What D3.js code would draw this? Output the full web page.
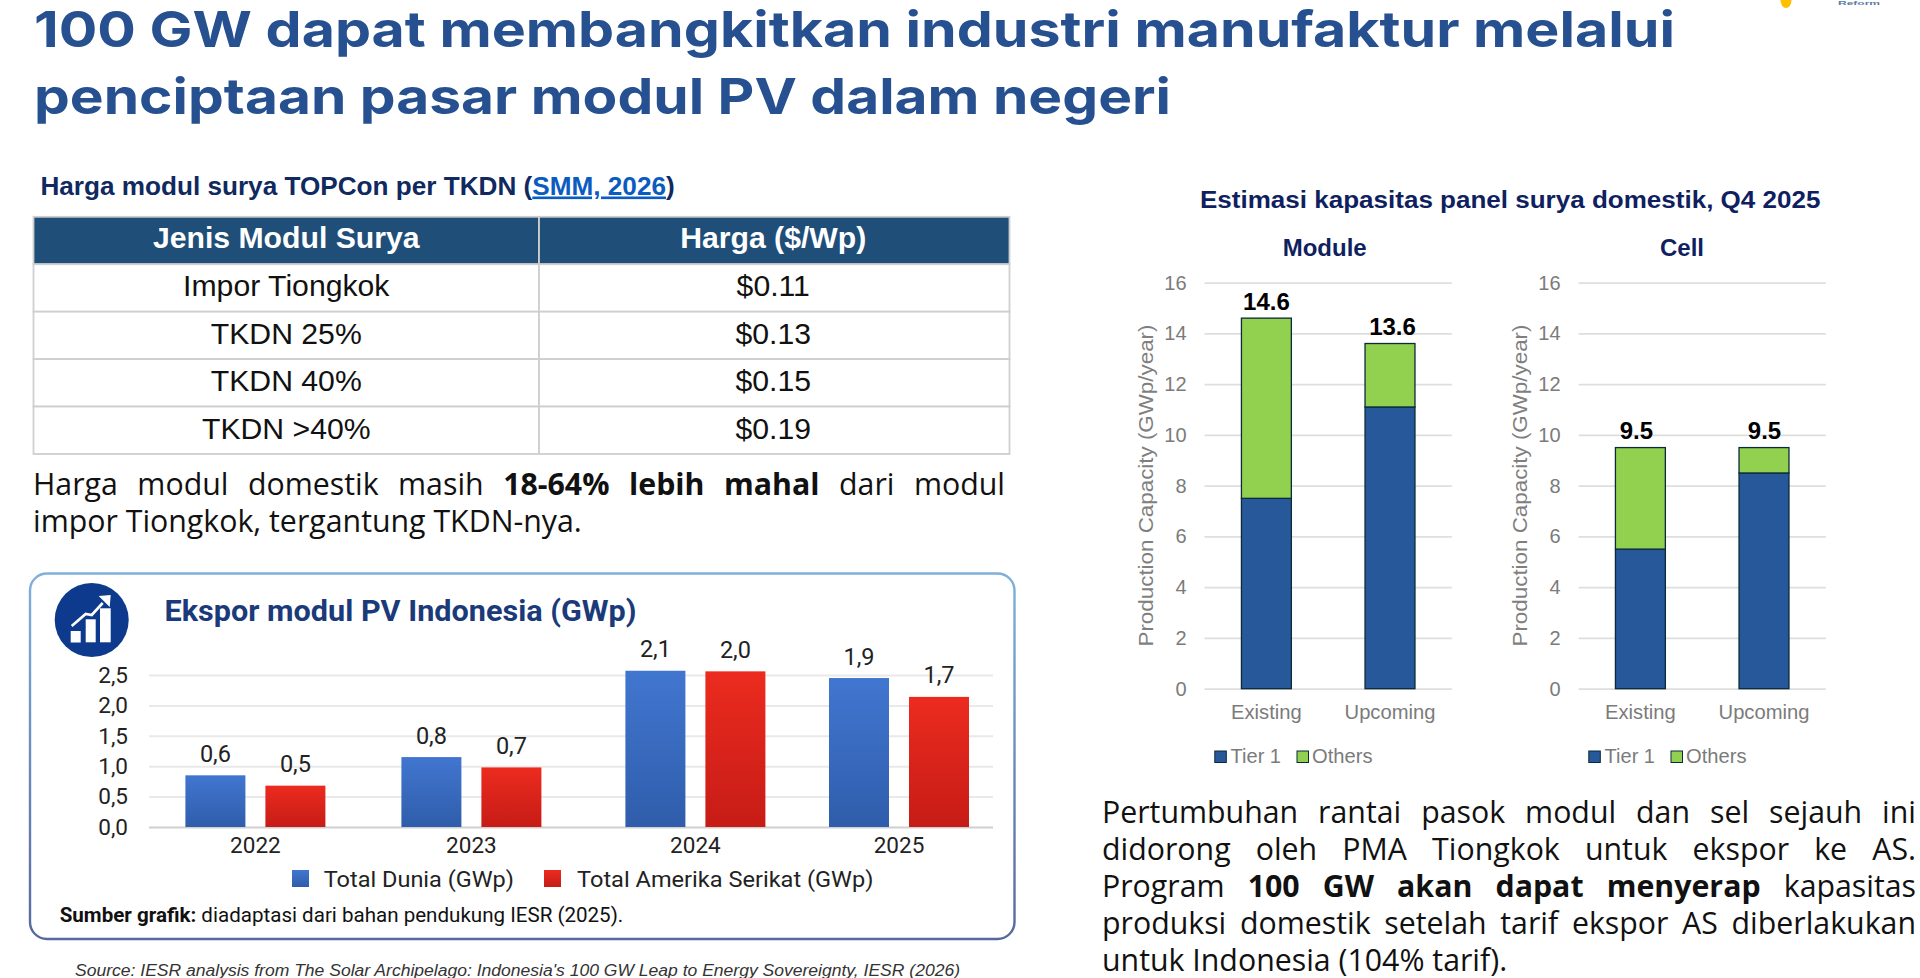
<!DOCTYPE html>
<html>
<head>
<meta charset="utf-8">
<script src="https://cdn.jsdelivr.net/npm/d3@7/dist/d3.min.js"></script>
<style>
html,body{margin:0;padding:0;background:#fff;overflow:hidden}
svg{display:block}
text{font-family:"Liberation Sans",Arial,sans-serif}
</style>
</head>
<body>
<div id="chart"></div>
<script>
// ---------- data ----------
const titleLines = ["100 GW dapat membangkitkan industri manufaktur melalui", "penciptaan pasar modul PV dalam negeri"];
const tableHeaders = ["Jenis Modul Surya", "Harga ($/Wp)"];
const moduleTypes = ["Impor Tiongkok", "TKDN 25%", "TKDN 40%", "TKDN >40%"];
const modulePrices = ["$0.11", "$0.13", "$0.15", "$0.19"];

const exportYears = ["2022", "2023", "2024", "2025"];
const exportSeries = ["Total Dunia (GWp)", "Total Amerika Serikat (GWp)"];
const exportWorldBars = [0.85, 1.15, 2.57, 2.45];
const exportUSBars = [0.68, 0.98, 2.56, 2.14];
const exportWorldLabels = ["0,6", "0,8", "2,1", "1,9"];
const exportUSLabels = ["0,5", "0,7", "2,0", "1,7"];
const exportTicks = [0, 0.5, 1, 1.5, 2, 2.5];

const capacityCategories = ["Existing", "Upcoming"];
const capacitySeries = ["Tier 1", "Others"];
const capacityTicks = [0, 2, 4, 6, 8, 10, 12, 14, 16];
const moduleTier1 = [7.5, 11.1];
const moduleOthers = [7.1, 2.5];
const moduleTotals = ["14.6", "13.6"];
const cellTier1 = [5.5, 8.5];
const cellOthers = [4.0, 1.0];
const cellTotals = ["9.5", "9.5"];

// ---------- helpers ----------
const svg = d3.select("#chart").append("svg").attr("width", 1920).attr("height", 978);
const defs = svg.append("defs");
function gradient(id, top, bottom) {
  const g = defs.append("linearGradient").attr("id", id).attr("x1", 0).attr("x2", 0).attr("y1", 0).attr("y2", 1);
  g.append("stop").attr("offset", "0%").attr("stop-color", top);
  g.append("stop").attr("offset", "100%").attr("stop-color", bottom);
}
gradient("gBlue", "#4176d0", "#2f5dab");
gradient("gRed", "#ec2b1f", "#c61c16");
gradient("gBorder", "#7fb0dc", "#56689f");

function fit(sel, w) { return sel.attr("textLength", w).attr("lengthAdjust", "spacingAndGlyphs"); }
function fitSize(sel, w) {
  const s = parseFloat(sel.attr("font-size"));
  sel.attr("font-size", s * w / sel.node().getComputedTextLength());
  return sel;
}
// a paragraph is one text element whose lines are tspans; justified lines get computed word spacing
function paragraph(x, size, lines) {
  const t = svg.append("text").attr("font-size", size)
    .style("font-family", '"Open Sans",sans-serif').style("white-space", "pre").attr("fill", "#111");
  lines.forEach(l => {
    const line = t.append("tspan").attr("x", x).attr("y", l.y);
    l.segs.forEach(s => line.append("tspan").attr("font-weight", s[1] ? 700 : 400).text(s[0]));
    if (l.width) {
      const spaces = l.segs.map(s => s[0]).join("").split(" ").length - 1;
      line.attr("word-spacing", (l.width - line.node().getComputedTextLength()) / spaces);
    }
  });
  return t;
}

// ---------- slide title ----------
const titleX = 34, titleWidths = [1641, 1137], titleY = [46.5, 114];
titleLines.forEach((l, i) => {
  fit(svg.append("text").attr("x", titleX).attr("y", titleY[i]).attr("font-size", 50).attr("font-weight", 700)
    .style("font-family", "Inter,sans-serif").attr("fill", "#26508f").text(l), titleWidths[i]);
});
// logo remnants at the top edge
svg.append("ellipse").attr("cx", 1786).attr("cy", 0).attr("rx", 5.5).attr("ry", 8).attr("fill", "#ffc000");
fit(svg.append("text").attr("x", 1838).attr("y", 5).attr("font-size", 5.5).attr("font-weight", 700).attr("fill", "#5a78a8").text("Reform"), 42);

// ---------- table ----------
const tableTitle = svg.append("text").attr("x", 40.4).attr("y", 194.5).attr("font-size", 24).attr("font-weight", 700).attr("fill", "#10295f");
tableTitle.append("tspan").text("Harga modul surya TOPCon per TKDN (");
tableTitle.append("tspan").attr("fill", "#0b5cc0").style("text-decoration", "underline").text("SMM, 2026");
tableTitle.append("tspan").text(")");
fitSize(tableTitle, 634.6);

const tableRows = [tableHeaders].concat(moduleTypes.map((m, i) => [m, modulePrices[i]]));
const rowY = d3.scaleBand().domain(d3.range(tableRows.length)).range([216.8, 454]);
const colX = d3.scaleOrdinal().domain([0, 1]).range([33.5, 539]);
const colW = d3.scaleOrdinal().domain([0, 1]).range([505.5, 470.5]);
const rowG = svg.append("g").selectAll("g").data(tableRows).join("g")
  .attr("transform", (d, i) => `translate(0,${rowY(i)})`);
rowG.each(function (row, i) {
  const g = d3.select(this);
  row.forEach((cell, c) => {
    g.append("rect").attr("x", colX(c)).attr("y", 0).attr("width", colW(c)).attr("height", rowY.bandwidth())
      .attr("fill", i === 0 ? "#1f4e79" : "#fff").attr("stroke", "#cfcfcf").attr("stroke-width", 1.8);
    g.append("text").attr("x", colX(c) + colW(c) / 2 + (c ? -1 : 0)).attr("y", rowY.bandwidth() / 2 + (i === 0 ? 7.5 : 8.5))
      .attr("text-anchor", "middle").attr("font-size", 30.2).attr("font-weight", i === 0 ? 700 : 400)
      .attr("fill", i === 0 ? "#fff" : "#111").text(cell);
  });
});

// ---------- paragraphs ----------
const paraSize = 30.3;
paragraph(33, paraSize, [
  { y: 494.5, width: 972, segs: [["Harga modul domestik masih ", 0], ["18-64% lebih mahal", 1], [" dari modul", 0]] },
  { y: 531.5, segs: [["impor Tiongkok, tergantung TKDN-nya.", 0]] }
]);
paragraph(1102, paraSize, [
  { y: 822.5, width: 814, segs: [["Pertumbuhan rantai pasok modul dan sel sejauh ini", 0]] },
  { y: 859.5, width: 814, segs: [["didorong oleh PMA Tiongkok untuk ekspor ke AS.", 0]] },
  { y: 896.5, width: 814, segs: [["Program ", 0], ["100 GW akan dapat menyerap", 1], [" kapasitas", 0]] },
  { y: 933.5, width: 814, segs: [["produksi domestik setelah tarif ekspor AS diberlakukan", 0]] },
  { y: 970.5, segs: [["untuk Indonesia (104% tarif).", 0]] }
]);

// ---------- export panel ----------
svg.append("rect").attr("x", 30).attr("y", 573.5).attr("width", 984.5).attr("height", 365.5).attr("rx", 17)
  .attr("fill", "#fff").attr("stroke", "url(#gBorder)").attr("stroke-width", 2.4);

const iconG = svg.append("g").attr("transform", "translate(91.7,620)");
iconG.append("circle").attr("r", 37).attr("fill", "#0d3a8c");
[[-21, 11, 10, 11.5], [-6, -0.7, 10, 23], [8.3, -11.7, 10.7, 34]].forEach(b =>
  iconG.append("rect").attr("x", b[0]).attr("y", b[1]).attr("width", b[2]).attr("height", b[3]).attr("fill", "#fff"));
iconG.append("path").attr("d", "M-20,6 L-6,-6 L0,-5 L11,-17").attr("fill", "none").attr("stroke", "#fff").attr("stroke-width", 2.6);
iconG.append("path").attr("d", "M7,-24 L19,-25 L18,-13 Z").attr("fill", "#fff");

fit(svg.append("text").attr("x", 164.5).attr("y", 620.7).attr("font-size", 29).attr("font-weight", 700)
  .style("font-family", "Roboto,sans-serif").attr("fill", "#1b3a7a").text("Ekspor modul PV Indonesia (GWp)"), 472);

const exY = d3.scaleLinear().domain([0, 2.5]).range([827, 675]);
const exCenter = d3.scaleOrdinal().domain(exportYears).range([255.4, 471.4, 695.4, 899]);
const exSub = d3.scaleBand().domain(exportSeries).range([-70, 70]).paddingInner(0.25);

const exAxis = svg.append("g").attr("transform", "translate(149,0)")
  .call(d3.axisLeft(exY).tickValues(exportTicks).tickSize(-844).tickPadding(21).tickFormat(d => d3.format(".1f")(d).replace(".", ",")));
exAxis.select(".domain").remove();
exAxis.selectAll(".tick line").attr("stroke", "#e9e9e9").attr("stroke-width", 2);
exAxis.selectAll(".tick").filter(d => d === 0).select("line").attr("stroke", "#cfcfcf");
exAxis.selectAll("text").attr("font-size", 22.5).style("font-family", "Roboto,sans-serif").attr("fill", "#222");

const exportData = [
  { name: exportSeries[0], fill: "url(#gBlue)", vals: exportWorldBars, labels: exportWorldLabels },
  { name: exportSeries[1], fill: "url(#gRed)", vals: exportUSBars, labels: exportUSLabels }
];
exportData.forEach(s => {
  const rows = exportYears.map((y, i) => ({ y, v: s.vals[i], l: s.labels[i] }));
  const g = svg.append("g");
  g.selectAll("rect").data(rows).join("rect")
    .attr("x", d => exCenter(d.y) + exSub(s.name)).attr("width", exSub.bandwidth())
    .attr("y", d => exY(d.v)).attr("height", d => exY(0) - exY(d.v)).attr("fill", s.fill);
  g.selectAll("text").data(rows).join("text")
    .attr("x", d => exCenter(d.y) + exSub(s.name) + exSub.bandwidth() / 2).attr("y", d => exY(d.v) - 13.5)
    .attr("text-anchor", "middle").attr("font-size", 23.5).style("font-family", "Roboto,sans-serif").attr("fill", "#222").text(d => d.l);
});
svg.append("g").selectAll("text").data(exportYears).join("text")
  .attr("x", d => exCenter(d)).attr("y", 852.5).attr("text-anchor", "middle").attr("font-size", 22.5)
  .style("font-family", "Roboto,sans-serif").attr("fill", "#222").text(d => d);

const exLegend = [{ sq: 292, tx: 323.7, w: 190.3, c: "url(#gBlue)" }, { sq: 544, tx: 577, w: 296.5, c: "url(#gRed)" }];
exportSeries.forEach((name, i) => {
  const l = exLegend[i];
  svg.append("rect").attr("x", l.sq).attr("y", 870).attr("width", 17).attr("height", 17).attr("fill", l.c);
  fit(svg.append("text").attr("x", l.tx).attr("y", 887).attr("font-size", 21.5).style("font-family", "Roboto,sans-serif").attr("fill", "#222").text(name), l.w);
});
const sumber = svg.append("text").attr("x", 59.7).attr("y", 921.7).attr("font-size", 18.5).style("font-family", "Roboto,sans-serif").attr("fill", "#111");
sumber.append("tspan").attr("font-weight", 700).text("Sumber grafik:");
sumber.append("tspan").text(" diadaptasi dari bahan pendukung IESR (2025).");
fitSize(sumber, 564);

fit(svg.append("text").attr("x", 75).attr("y", 975.5).attr("font-size", 16).attr("font-style", "italic").attr("fill", "#333")
  .text("Source: IESR analysis from The Solar Archipelago: Indonesia's 100 GW Leap to Energy Sovereignty, IESR (2026)"), 885);

// ---------- capacity charts ----------
fit(svg.append("text").attr("x", 1200).attr("y", 207.7).attr("font-size", 23.5).attr("font-weight", 700).attr("fill", "#0f1f5f")
  .text("Estimasi kapasitas panel surya domestik, Q4 2025"), 620.4);

const capY = d3.scaleLinear().domain([0, 16]).range([688.7, 282.6]);

function capacityChart(left, title, titleCx, tier1, others, totals, labelDx) {
  const w = 247.2;
  const x = d3.scaleBand().domain(capacityCategories).range([left, left + w]).paddingInner(0.596).paddingOuter(0.298);
  const g = svg.append("g");

  g.append("text").attr("x", titleCx).attr("y", 255.6).attr("text-anchor", "middle").attr("font-size", 24).attr("font-weight", 700)
    .attr("fill", "#0f1f5f").text(title);

  const ax = g.append("g").attr("transform", `translate(${left},0)`)
    .call(d3.axisLeft(capY).tickValues(capacityTicks).tickSize(-w).tickPadding(18));
  ax.select(".domain").remove();
  ax.selectAll(".tick line").attr("stroke", "#dedede").attr("stroke-width", 1.8);
  ax.selectAll("text").attr("font-size", 20).attr("fill", "#7b7b7b");

  fit(g.append("text").attr("transform", `translate(${left - 52},${485.5}) rotate(-90)`).attr("text-anchor", "middle")
    .attr("font-size", 20).attr("fill", "#7f7f7f").text("Production Capacity (GWp/year)"), 322);

  const rows = capacityCategories.map((c, i) => ({ c, a: tier1[i], b: others[i], t: totals[i], dx: labelDx[i] }));
  const stack = d3.stack().keys(["a", "b"])(rows);
  const fills = ["#27589a", "#92d050"];
  stack.forEach((layer, k) => {
    g.append("g").selectAll("rect").data(layer).join("rect")
      .attr("x", d => x(d.data.c)).attr("width", x.bandwidth())
      .attr("y", d => capY(d[1])).attr("height", d => capY(d[0]) - capY(d[1]))
      .attr("fill", fills[k]).attr("stroke", "#0b2a3a").attr("stroke-width", 1.3);
  });
  g.append("g").selectAll("text").data(rows).join("text")
    .attr("x", d => x(d.c) + x.bandwidth() / 2 + d.dx).attr("y", d => capY(d.a + d.b) - 8.5)
    .attr("text-anchor", "middle").attr("font-size", 24).attr("font-weight", 700).attr("fill", "#000").text(d => d.t);

  g.append("g").selectAll("text").data(capacityCategories).join("text")
    .attr("x", d => x(d) + x.bandwidth() / 2).attr("y", 719).attr("text-anchor", "middle").attr("font-size", 20.2)
    .attr("fill", "#7b7b7b").text(d => d);

  const lgX = [10.2, 92.4], txX = [26, 107.4], txW = [50.4, 60.5];
  capacitySeries.forEach((name, i) => {
    g.append("rect").attr("x", left + lgX[i]).attr("y", 751).attr("width", 11.5).attr("height", 11.5)
      .attr("fill", fills[i]).attr("stroke", "#0b2a3a").attr("stroke-width", 1);
    fit(g.append("text").attr("x", left + txX[i]).attr("y", 762.5).attr("font-size", 20).attr("fill", "#7b7b7b").text(name), txW[i]);
  });
}
capacityChart(1204.6, "Module", 1324.7, moduleTier1, moduleOthers, moduleTotals, [0, 2.5]);
capacityChart(1578.6, "Cell", 1682, cellTier1, cellOthers, cellTotals, [-4, 0.5]);
</script>
</body>
</html>
